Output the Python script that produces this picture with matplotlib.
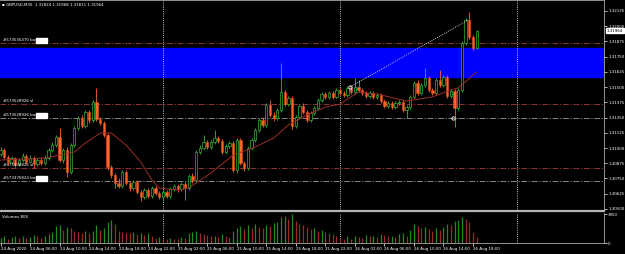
import numpy as np
import matplotlib
matplotlib.use('Agg')
import matplotlib.pyplot as plt
from matplotlib.patches import Rectangle
import matplotlib.transforms as mtransforms

# GBPUSD M30 bars, 24 Aug 02:00 -> 26 Aug 18:30
opens = [1.30951, 1.30984, 1.30926, 1.30885, 1.30918, 1.30860, 1.30901, 1.30934, 1.30885, 1.30918,
         1.30869, 1.30901, 1.30877, 1.30918, 1.30984, 1.31025, 1.31090, 1.30901, 1.30984, 1.30803,
         1.31025, 1.31164, 1.31246, 1.31181, 1.31296, 1.31230, 1.31378, 1.31238, 1.31205, 1.31107,
         1.30844, 1.30778, 1.30713, 1.30688, 1.30803, 1.30713, 1.30672, 1.30721, 1.30639, 1.30598,
         1.30655, 1.30606, 1.30672, 1.30631, 1.30598, 1.30639, 1.30606, 1.30663, 1.30688, 1.30663,
         1.30704, 1.30672, 1.30770, 1.30737, 1.30967, 1.31000, 1.31049, 1.31008, 1.31049, 1.31082,
         1.31057, 1.30967, 1.31016, 1.31041, 1.30819, 1.31066, 1.30877, 1.30836, 1.31000, 1.31066,
         1.31148, 1.31230, 1.31189, 1.31353, 1.31271, 1.31246, 1.31312, 1.31460, 1.31361, 1.31410,
         1.31181, 1.31254, 1.31345, 1.31296, 1.31230, 1.31287, 1.31328, 1.31394, 1.31443, 1.31419,
         1.31451, 1.31419, 1.31476, 1.31451, 1.31435, 1.31493, 1.31460, 1.31501, 1.31476, 1.31451,
         1.31427, 1.31451, 1.31419, 1.31435, 1.31386, 1.31345, 1.31369, 1.31336, 1.31369, 1.31378,
         1.31312, 1.31336, 1.31419, 1.31534, 1.31451, 1.31517, 1.31575, 1.31476, 1.31451, 1.31558,
         1.31517, 1.31583, 1.31427, 1.31468, 1.31328, 1.31476, 1.31862, 1.32051, 1.31911, 1.31824]
highs = [1.31008, 1.31000, 1.30942, 1.30934, 1.30926, 1.30918, 1.30959, 1.30951, 1.30942, 1.30934,
         1.30918, 1.30926, 1.30942, 1.31000, 1.31049, 1.31107, 1.31164, 1.31000, 1.31008, 1.31041,
         1.31181, 1.31263, 1.31271, 1.31312, 1.31312, 1.31394, 1.31493, 1.31254, 1.31222, 1.31123,
         1.30860, 1.30795, 1.30754, 1.30819, 1.30819, 1.30729, 1.30737, 1.30737, 1.30655, 1.30672,
         1.30672, 1.30688, 1.30688, 1.30647, 1.30655, 1.30655, 1.30680, 1.30704, 1.30704, 1.30721,
         1.30721, 1.30787, 1.30795, 1.30984, 1.31025, 1.31107, 1.31066, 1.31066, 1.31148, 1.31098,
         1.31074, 1.31033, 1.31057, 1.31057, 1.31082, 1.31082, 1.30893, 1.31016, 1.31082, 1.31164,
         1.31246, 1.31254, 1.31369, 1.31394, 1.31296, 1.31328, 1.31698, 1.31476, 1.31427, 1.31427,
         1.31271, 1.31361, 1.31369, 1.31312, 1.31304, 1.31345, 1.31410, 1.31460, 1.31460, 1.31468,
         1.31468, 1.31493, 1.31493, 1.31468, 1.31509, 1.31509, 1.31575, 1.31558, 1.31493, 1.31468,
         1.31468, 1.31468, 1.31451, 1.31451, 1.31402, 1.31386, 1.31386, 1.31386, 1.31394, 1.31394,
         1.31353, 1.31435, 1.31550, 1.31558, 1.31534, 1.31657, 1.31591, 1.31493, 1.31575, 1.31640,
         1.31599, 1.31599, 1.31484, 1.31484, 1.31493, 1.31878, 1.32067, 1.32116, 1.31928, 1.31968]
lows = [1.30934, 1.30910, 1.30860, 1.30869, 1.30844, 1.30852, 1.30885, 1.30869, 1.30877, 1.30836,
        1.30852, 1.30860, 1.30860, 1.30901, 1.30967, 1.31008, 1.30885, 1.30877, 1.30762, 1.30787,
        1.31008, 1.31148, 1.31164, 1.31164, 1.31205, 1.31213, 1.31222, 1.31189, 1.31090, 1.30819,
        1.30754, 1.30672, 1.30672, 1.30672, 1.30696, 1.30647, 1.30655, 1.30622, 1.30565, 1.30581,
        1.30590, 1.30590, 1.30614, 1.30581, 1.30565, 1.30590, 1.30590, 1.30647, 1.30639, 1.30647,
        1.30573, 1.30655, 1.30713, 1.30721, 1.30951, 1.30984, 1.30992, 1.30992, 1.31033, 1.31041,
        1.30951, 1.30951, 1.31000, 1.30803, 1.30795, 1.30860, 1.30811, 1.30819, 1.30984, 1.31049,
        1.31131, 1.31172, 1.31172, 1.31254, 1.31222, 1.31230, 1.31296, 1.31345, 1.31345, 1.31156,
        1.31164, 1.31238, 1.31279, 1.31213, 1.31213, 1.31271, 1.31312, 1.31378, 1.31402, 1.31402,
        1.31402, 1.31410, 1.31435, 1.31419, 1.31419, 1.31443, 1.31443, 1.31460, 1.31435, 1.31410,
        1.31410, 1.31402, 1.31402, 1.31369, 1.31328, 1.31328, 1.31320, 1.31320, 1.31353, 1.31296,
        1.31246, 1.31320, 1.31402, 1.31435, 1.31435, 1.31501, 1.31460, 1.31435, 1.31435, 1.31501,
        1.31501, 1.31410, 1.31410, 1.31172, 1.31312, 1.31460, 1.31846, 1.31895, 1.31805, 1.31811]
closes = [1.30984, 1.30926, 1.30885, 1.30918, 1.30860, 1.30901, 1.30934, 1.30885, 1.30918, 1.30869,
          1.30901, 1.30877, 1.30918, 1.30984, 1.31025, 1.31090, 1.30901, 1.30984, 1.30803, 1.31025,
          1.31164, 1.31246, 1.31181, 1.31296, 1.31230, 1.31378, 1.31238, 1.31205, 1.31107, 1.30844,
          1.30778, 1.30713, 1.30688, 1.30803, 1.30713, 1.30672, 1.30721, 1.30639, 1.30598, 1.30655,
          1.30606, 1.30672, 1.30631, 1.30598, 1.30639, 1.30606, 1.30663, 1.30688, 1.30663, 1.30704,
          1.30672, 1.30770, 1.30737, 1.30967, 1.31000, 1.31049, 1.31008, 1.31049, 1.31082, 1.31057,
          1.30967, 1.31016, 1.31041, 1.30819, 1.31066, 1.30877, 1.30836, 1.31000, 1.31066, 1.31148,
          1.31230, 1.31189, 1.31353, 1.31271, 1.31246, 1.31312, 1.31460, 1.31361, 1.31410, 1.31181,
          1.31254, 1.31345, 1.31296, 1.31230, 1.31287, 1.31328, 1.31394, 1.31443, 1.31419, 1.31451,
          1.31419, 1.31476, 1.31451, 1.31435, 1.31493, 1.31460, 1.31501, 1.31476, 1.31451, 1.31427,
          1.31451, 1.31419, 1.31435, 1.31386, 1.31345, 1.31369, 1.31336, 1.31369, 1.31378, 1.31312,
          1.31336, 1.31419, 1.31534, 1.31451, 1.31517, 1.31575, 1.31476, 1.31451, 1.31558, 1.31517,
          1.31583, 1.31427, 1.31468, 1.31328, 1.31476, 1.31862, 1.32051, 1.31911, 1.31824, 1.31964]
volumes = [700, 950, 600, 800, 1000, 750, 900, 650, 850, 1100, 900, 700, 1000,
           1200, 1500, 2300, 2500, 1800, 2200, 2000, 1700,
           1500, 1300, 1600, 1400, 1700, 2400, 1800, 2100,
           2900, 3100, 2600,
           1600, 1500, 1400, 1300, 1500, 1200, 1400, 1100, 1300,
           900, 700, 800, 600, 500, 700, 600, 500, 800, 700,
           1300, 1500, 1600, 1400, 1200, 1100,
           900, 1000, 800, 1200, 900, 800,
           1600, 2000, 2300, 1900, 2400, 2100, 2600, 2200, 2000, 2500, 2300, 2700,
           2800, 3500, 3700, 3300, 3900, 3000,
           2600, 2400, 2200, 1900, 2000, 1700, 1800, 1500, 1400, 1200, 1000,
           700, 500, 900, 600, 1000, 800, 700, 1100, 900, 1000, 800, 1200, 1100, 900, 1000, 800, 1200, 1300, 1000,
           1800, 2600, 2300, 2000, 2200, 1900, 1700, 2100,
           1800, 2200, 2600, 2400, 3000, 3200, 3600, 3300, 2800, 1500, 806]

# moving average (bar index, price)
ma_bars = [0, 12, 20, 23, 27, 30, 34, 38, 41, 43, 48, 51, 57, 63, 69, 74, 78, 83, 88, 92, 97, 102, 110, 117, 122, 124, 129]
ma_vals = [1.30901, 1.30918, 1.30967, 1.31041, 1.31123, 1.31123, 1.31025, 1.30885, 1.30737, 1.30672,
           1.30655, 1.30672, 1.30795, 1.30942, 1.31008, 1.31082, 1.31189, 1.31271, 1.31336, 1.31361,
           1.31460, 1.31443, 1.31386, 1.31419, 1.31476, 1.31493, 1.31624]

# order levels
order_labels = ['#573535470 buy', '#573528926 sl', '#573528926 buy', '#573376825 sl', '#573376824 buy']
order_prices = [1.31862, 1.31361, 1.31246, 1.30836, 1.30729]
order_kind = ['buy_top', 'sl', 'buy', 'sl', 'buy']

zone_low, zone_high = 1.31579, 1.31825
trade_bars = [94.7, 126.7]
trade_prices = [1.31501, 1.32051]
entry_bar, entry_price = 122.6, 1.31246

day_breaks = [44, 92, 140]
time_ticks = list(range(0, 129, 8))
time_labels = ['24 Aug 2020', '24 Aug 06:00', '24 Aug 10:00', '24 Aug 14:00', '24 Aug 18:00',
               '24 Aug 22:00', '25 Aug 02:00', '25 Aug 06:00', '25 Aug 10:00', '25 Aug 14:00',
               '25 Aug 18:00', '25 Aug 22:00', '26 Aug 02:00', '26 Aug 06:00', '26 Aug 10:00',
               '26 Aug 14:00', '26 Aug 18:00']
price_ticks = [1.30500, 1.30625, 1.30750, 1.30875, 1.31000, 1.31125, 1.31250,
               1.31375, 1.31500, 1.31625, 1.31750, 1.31875, 1.32000, 1.32125]

UP = '#33b533'
DOWN = '#ff6428'
FS = 2.9

fig = plt.figure(figsize=(6.25, 2.54), dpi=100, facecolor='black')
ax = fig.add_axes([0, 0.1693, 0.9664, 0.8307], facecolor='black')
axv = fig.add_axes([0, 0.0433, 0.9664, 0.1181], facecolor='black', sharex=ax)

o = np.array(opens); h = np.array(highs); l = np.array(lows); c = np.array(closes)
x = np.arange(len(c))
up = c >= o

ax.axhspan(zone_low, zone_high, color='#0000ff', zorder=0)

for lab, p, kind in zip(order_labels, order_prices, order_kind):
    col = '#9a9a9a' if kind == 'buy' else '#a03c3c'
    ax.axhline(p, color=col, lw=0.6, ls=(0, (7, 2, 1.5, 2)), zorder=1)
    ax.text(0.8, p + 0.00005, lab, color='white', fontsize=FS, va='bottom', ha='left', zorder=6)
    if kind != 'sl':
        ax.add_patch(Rectangle((9.7, p + 0.00004), 2.8, 0.00035, color='white', zorder=6))

for b in day_breaks:
    for a in (ax, axv):
        a.axvline(b, color='white', lw=0.6, ls=(0, (1, 1.6)), zorder=1)

# candles
ax.vlines(x[up], l[up], h[up], color=UP, lw=0.6, zorder=3)
ax.vlines(x[~up], l[~up], h[~up], color=DOWN, lw=0.6, zorder=3)
ax.bar(x[up], c[up] - o[up], bottom=o[up], width=0.62, facecolor='black', edgecolor=UP, lw=0.5, zorder=4)
ax.bar(x[~up], o[~up] - c[~up], bottom=c[~up], width=0.62, facecolor=DOWN, edgecolor='#e04a1c', lw=0.4, zorder=4)

ax.plot(ma_bars, ma_vals, color='#9b2d2d', lw=0.7, zorder=5)
ax.plot(trade_bars, trade_prices, color='white', lw=0.6, ls=(0, (1, 1.5)), zorder=5)
ax.plot(trade_bars[0], trade_prices[0], 'o', mfc='none', mec='white', ms=2.4, mew=0.6, zorder=6)
ax.plot(entry_bar, entry_price, 'o', mfc='none', mec='white', ms=2.4, mew=0.6, zorder=6)

ax.set_xlim(-0.14, 163.5)
ax.set_ylim(1.30483, 1.32215)
ax.yaxis.tick_right()
ax.set_yticks(price_ticks)
ax.set_yticklabels([f'{p:.5f}' for p in price_ticks])
ax.tick_params(axis='y', colors='white', labelsize=FS, length=2, width=0.5, pad=1)
ax.tick_params(axis='x', bottom=False, labelbottom=False)

ax.text(0.004, 0.985, '\u25aa GBPUSD,M30  1.31824 1.31968 1.31811 1.31964', transform=ax.transAxes,
        color='white', fontsize=FS, va='top', ha='left')

tr = mtransforms.blended_transform_factory(ax.transAxes, ax.transData)
ax.text(1.004, closes[-1], f'{closes[-1]:.5f}', transform=tr, fontsize=FS, color='black', va='center',
        ha='left', bbox=dict(facecolor='white', edgecolor='white', pad=0.6), clip_on=False, zorder=10)

# volumes
vol = np.array(volumes)
vup = np.r_[True, vol[1:] > vol[:-1]]
axv.vlines(x[vup], 0, vol[vup], color='#1f8c1f', lw=0.9)
axv.vlines(x[~vup], 0, vol[~vup], color='#9c2a2a', lw=0.9)
axv.set_ylim(0, 4090)
axv.yaxis.tick_right()
axv.set_yticks([0, 3950])
axv.set_yticklabels(['0', '3950'])
axv.tick_params(axis='y', colors='white', labelsize=FS, length=2, width=0.5, pad=1)
axv.text(0.004, 0.93, f'Volumes {volumes[-1]}', transform=axv.transAxes, color='white', fontsize=FS,
         va='top', ha='left')
axv.set_xticks(time_ticks)
axv.set_xticklabels(time_labels)
axv.tick_params(axis='x', colors='white', labelsize=FS, length=2, width=0.5, pad=0.8)
plt.setp(axv.get_xticklabels(), ha='left')

for a in (ax, axv):
    for s in a.spines.values():
        s.set_color('#a8a8a8')
        s.set_linewidth(0.6)
    a.spines['left'].set_visible(False)
ax.spines['bottom'].set_linewidth(1.6)
ax.spines['bottom'].set_color('#b4b4b4')
axv.spines['top'].set_visible(False)

fig.savefig('out.png', dpi=100, facecolor='black')
